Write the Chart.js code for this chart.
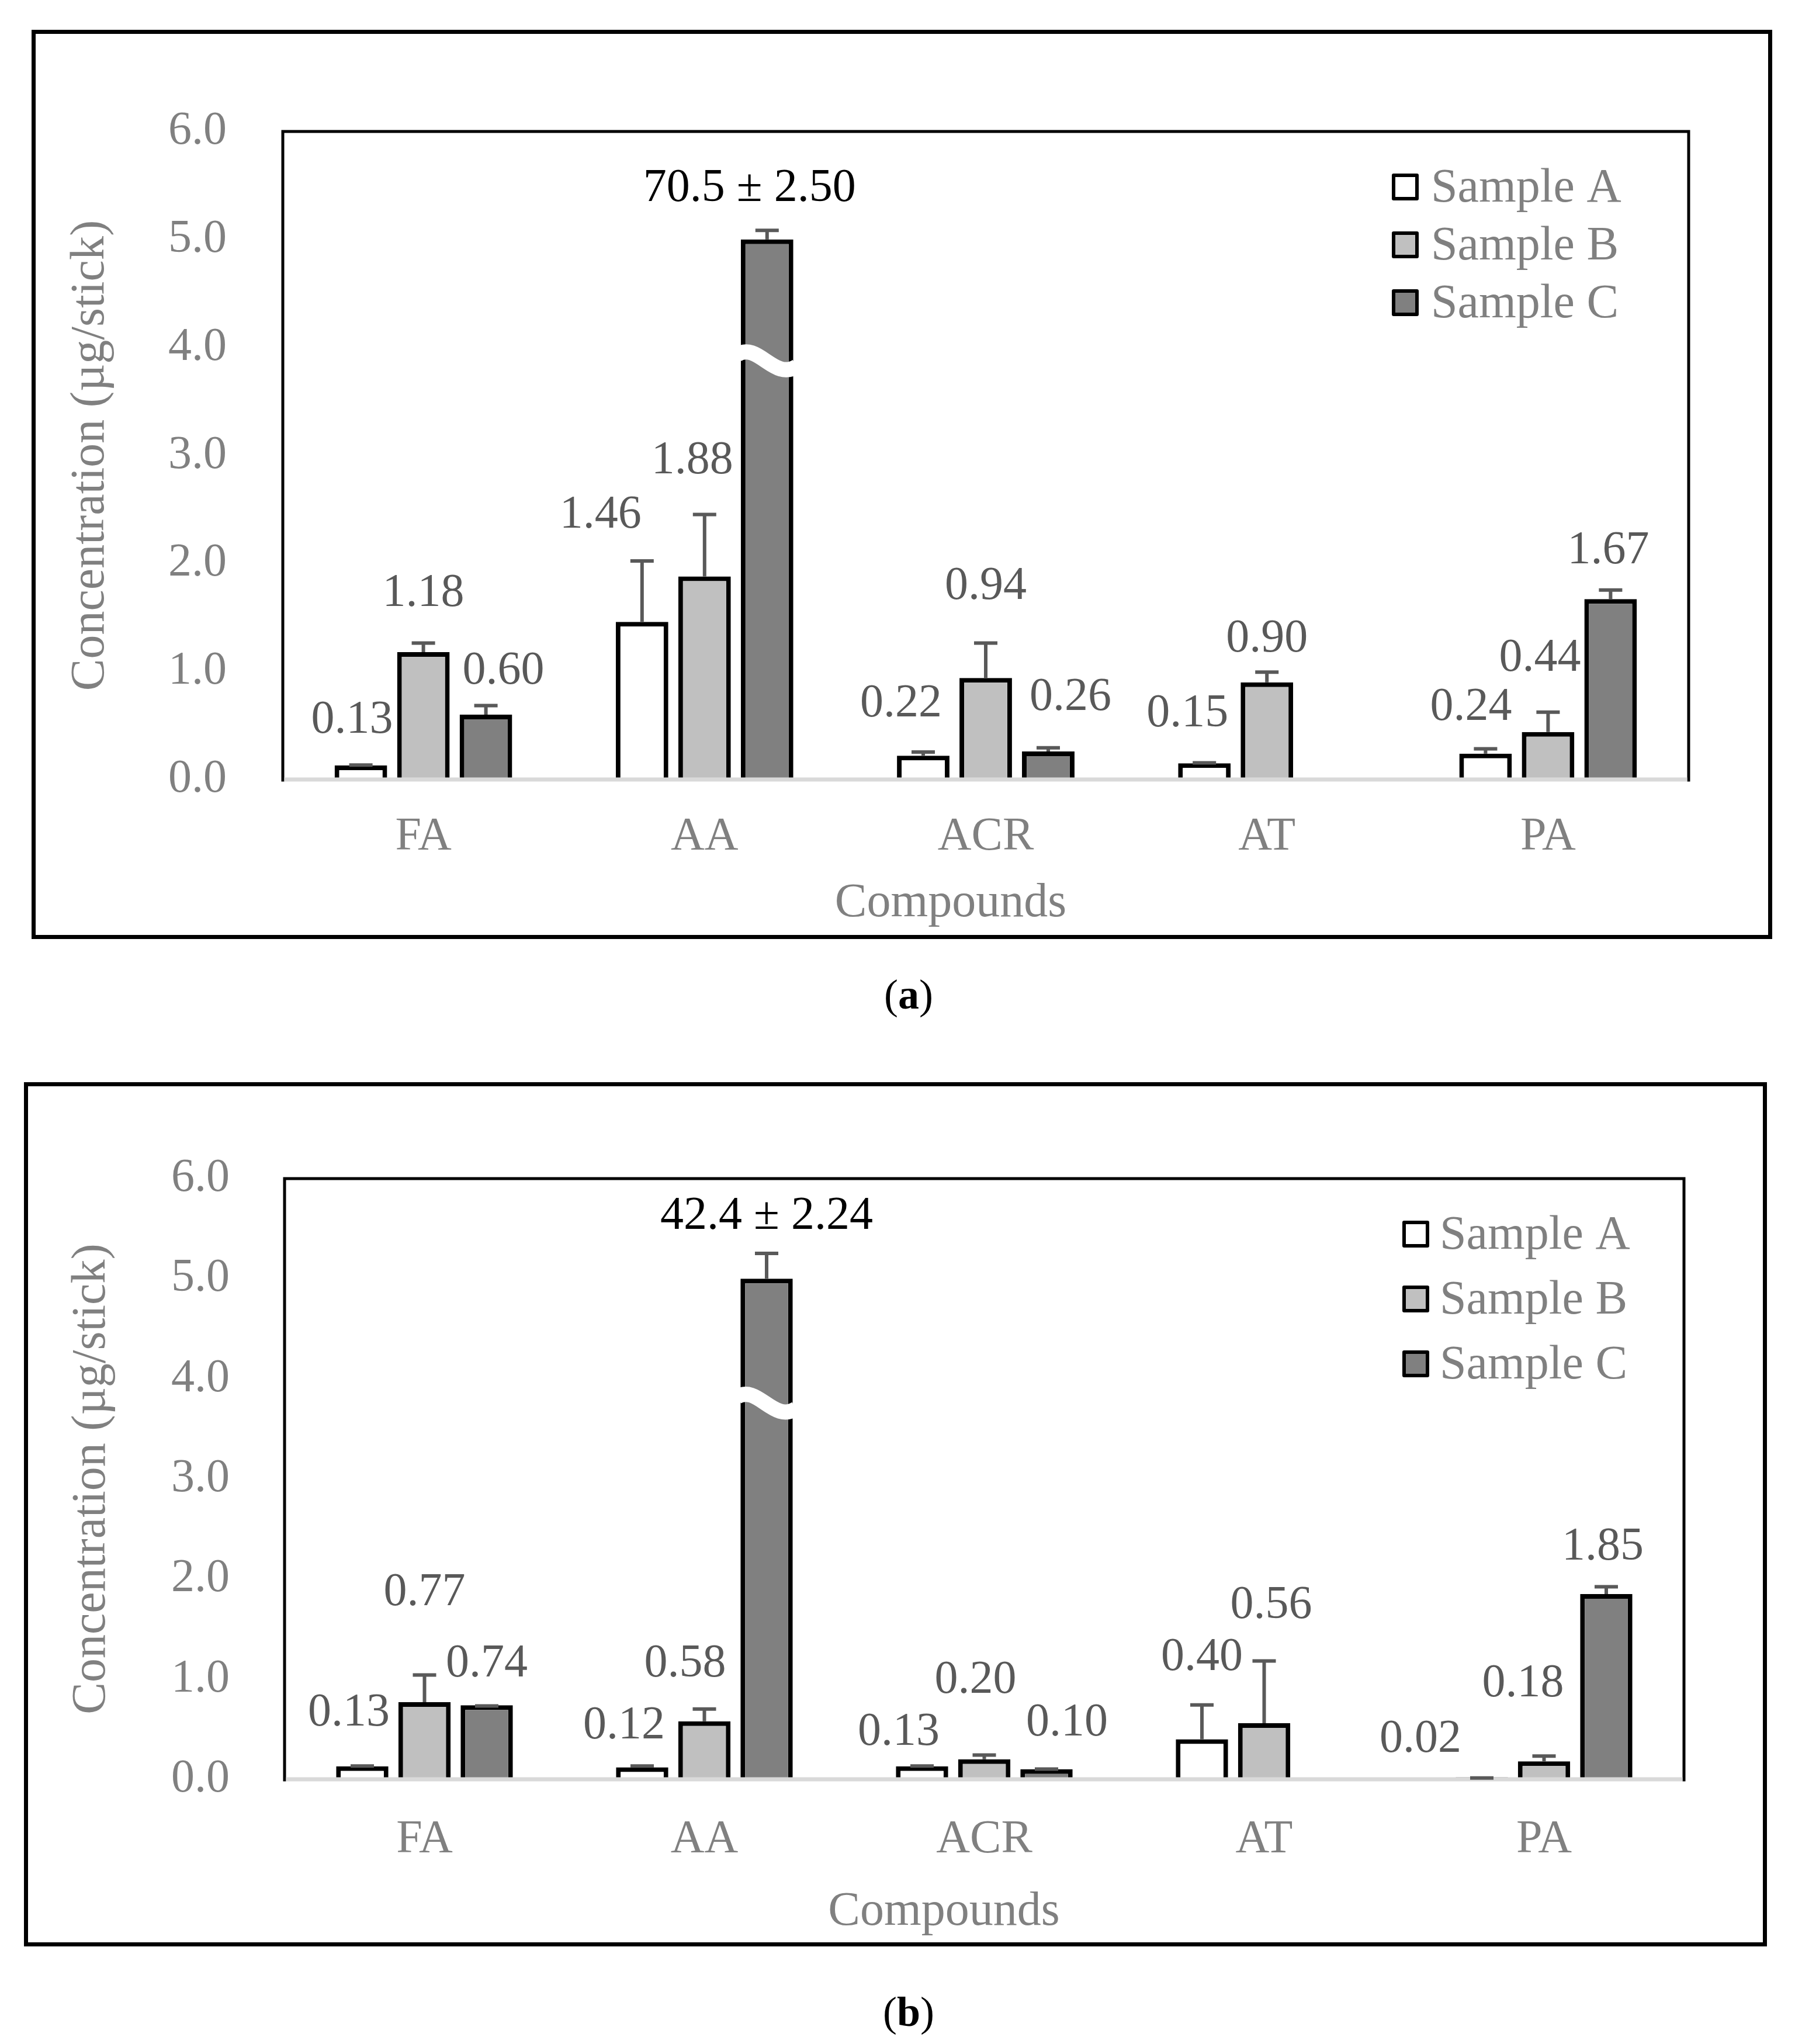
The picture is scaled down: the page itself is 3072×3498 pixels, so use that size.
<!DOCTYPE html>
<html><head><meta charset="utf-8">
<script src="https://cdn.jsdelivr.net/npm/chart.js@4.4.1/dist/chart.umd.min.js"></script>
<style>
html,body{margin:0;padding:0;background:#fff;}
body{width:3072px;height:3498px;position:relative;overflow:hidden;}
.frame{position:absolute;border:7px solid #000;box-sizing:border-box;}
canvas{position:absolute;left:0;}
.cap{position:absolute;width:400px;text-align:center;font-family:"Liberation Serif","Times New Roman",serif;font-size:72px;color:#000;line-height:80px;}
</style></head><body>
<div class="frame" style="left:54px;top:51px;width:2979px;height:1556px"></div>
<div class="frame" style="left:41px;top:1852px;width:2983px;height:1479px"></div>
<canvas id="ca" width="3072" height="1650" style="top:0;width:3072px;height:1650px"></canvas>
<canvas id="cb" width="3072" height="1630" style="top:1700px;width:3072px;height:1630px"></canvas>
<div class="cap" style="left:1355px;top:1662px">(<b>a</b>)</div>
<div class="cap" style="left:1355px;top:3403px">(<b>b</b>)</div>
<script>
// ---------- data ----------
const categories = ['FA', 'AA', 'ACR', 'AT', 'PA'];
const seriesNames = ['Sample A', 'Sample B', 'Sample C'];
const yTickValues = [0, 1, 2, 3, 4, 5, 6];
const breakShownAt = 5.0;   // bars above this are drawn broken at this height

// panel (a)
const aSampleA = [0.13, 1.46, 0.22, 0.15, 0.24];
const aSampleB = [1.18, 1.88, 0.94, 0.90, 0.44];
const aSampleC = [0.60, 70.5, 0.26, null, 1.67];
const aErrA = [0.02, 0.58, 0.05, 0.02, 0.06];
const aErrB = [0.10, 0.59, 0.34, 0.11, 0.20];
const aErrC = [0.10, 0.10, 0.05, null, 0.10];
const aBreakSd = 2.50;

// panel (b)
const bSampleA = [0.13, 0.12, 0.13, 0.40, 0.02];
const bSampleB = [0.77, 0.58, 0.20, 0.56, 0.18];
const bSampleC = [0.74, 42.4, 0.10, null, 1.85];
const bErrA = [0.02, 0.03, 0.02, 0.36, 0.01];
const bErrB = [0.29, 0.14, 0.06, 0.64, 0.07];
const bErrC = [0.01, 0.27, 0.02, null, 0.09];
const bBreakSd = 2.24;

// ---------- label placement (pixel nudges from error-bar top) ----------
const aLabelNudge = [
  [[-15, 73], [-71, 75], [-38, 79], [-29, 81], [-25, 68]],
  [[0, 81], [-21, 88], [0, 93], [0, 53], [-14, 89]],
  [[30, 56], [-30, 68], [38, 83], null, [-4, 64]]
];
const bLabelNudge = [
  [[-23, 87], [-31, 65], [-40, 54], [0, 78], [-105, 63]],
  [[0, 137], [-33, 74], [-15, 124], [12, 91], [-36, 120]],
  [[0, 69], [0, 60], [35, 75], null, [-6, 65]]
];

// ---------- style ----------
const FONT = '"Liberation Serif", "Times New Roman", serif';
const fills = ['#ffffff', '#c0c0c0', '#808080'];
const GREY = '#808080';
const LABEL_GREY = '#595959';

function makePanel(canvasId, values, errs, breakSd, nudges, L) {
  const shown = values.map(arr => arr.map(v => v == null ? null : Math.min(v, breakShownAt)));

  const overlay = {
    id: 'overlay_' + canvasId,
    afterDraw(chart) {
      const ctx = chart.ctx, ca = chart.chartArea, ys = chart.scales.y;
      ctx.save();
      // plot frame
      ctx.strokeStyle = '#000'; ctx.lineWidth = 5; ctx.lineCap = 'butt';
      ctx.beginPath();
      ctx.moveTo(ca.left, ca.bottom + 3.5); ctx.lineTo(ca.left, ca.top);
      ctx.lineTo(ca.right, ca.top); ctx.lineTo(ca.right, ca.bottom + 3.5);
      ctx.stroke();
      ctx.strokeStyle = '#d9d9d9'; ctx.lineWidth = 7;
      ctx.beginPath(); ctx.moveTo(ca.left + 2.5, ca.bottom); ctx.lineTo(ca.right - 2.5, ca.bottom); ctx.stroke();

      // axis break wave
      values.forEach((arr, d) => arr.forEach((v, i) => {
        if (v == null || v <= breakShownAt) return;
        const bar = chart.getDatasetMeta(d).data[i];
        const x0 = bar.x - bar.width / 2 - 6, x1 = bar.x + bar.width / 2 + 6, w = x1 - x0;
        const yc = ys.getPixelForValue(L.waveAt);
        ctx.strokeStyle = '#fff'; ctx.lineWidth = 26; ctx.lineCap = 'butt';
        ctx.beginPath(); ctx.moveTo(x0, yc - 12);
        ctx.bezierCurveTo(x0 + w * 0.35, yc - 34, x0 + w * 0.62, yc + 34, x1, yc + 8);
        ctx.stroke();
      }));

      // error bars (positive only)
      ctx.strokeStyle = '#595959'; ctx.lineWidth = 6; ctx.lineCap = 'butt';
      shown.forEach((arr, d) => arr.forEach((v, i) => {
        if (v == null || errs[d][i] == null) return;
        const bar = chart.getDatasetMeta(d).data[i];
        const yt = ys.getPixelForValue(v + errs[d][i]);
        ctx.beginPath();
        ctx.moveTo(bar.x, bar.y); ctx.lineTo(bar.x, yt);
        ctx.moveTo(bar.x - 20, yt + 3); ctx.lineTo(bar.x + 20, yt + 3);
        ctx.stroke();
      }));

      // data labels
      ctx.textAlign = 'center'; ctx.textBaseline = 'middle';
      ctx.font = '80px ' + FONT;
      values.forEach((arr, d) => arr.forEach((v, i) => {
        if (v == null) return;
        const bar = chart.getDatasetMeta(d).data[i];
        const yt = ys.getPixelForValue(shown[d][i] + (errs[d][i] || 0));
        const n = nudges[d][i] || [0, 60];
        let txt, col;
        if (v > breakShownAt) { txt = v.toFixed(1) + ' \u00b1 ' + breakSd.toFixed(2); col = '#000'; }
        else { txt = v.toFixed(2); col = LABEL_GREY; }
        ctx.fillStyle = col;
        ctx.fillText(txt, bar.x + n[0], yt - n[1]);
      }));

      // legend
      ctx.textAlign = 'left'; ctx.textBaseline = 'middle';
      ctx.font = '82px ' + FONT;
      seriesNames.forEach((name, d) => {
        const cy = ca.top + L.legTop + d * L.legGap;
        const bx = ca.right - L.legBox, s = 46;
        ctx.fillStyle = fills[d];
        ctx.strokeStyle = '#000'; ctx.lineWidth = 6; ctx.lineJoin = 'round';
        ctx.beginPath(); ctx.rect(bx + 3, cy - s / 2 + 3, s - 6, s - 6); ctx.fill(); ctx.stroke();
        ctx.fillStyle = GREY;
        ctx.fillText(name, ca.right - L.legText, cy + 3);
      });

      // x axis title
      ctx.textAlign = 'center';
      ctx.fillStyle = GREY;
      ctx.fillText('Compounds', (ca.left + ca.right) / 2 + L.xTitleDx, L.xTitleY);
      ctx.restore();
    }
  };

  return new Chart(document.getElementById(canvasId), {
    type: 'bar',
    data: {
      labels: categories,
      datasets: seriesNames.map((name, d) => ({
        label: name,
        data: shown[d],
        backgroundColor: fills[d],
        borderColor: '#000',
        borderWidth: 8,
        borderSkipped: 'start',
        barPercentage: 0.84,
        categoryPercentage: 0.667
      }))
    },
    options: {
      responsive: false,
      animation: false,
      devicePixelRatio: 1,
      layout: { padding: { left: 0, top: L.padTop, right: L.padRight, bottom: 0 } },
      plugins: { legend: { display: false }, tooltip: { enabled: false } },
      scales: {
        x: {
          grid: { display: false, drawTicks: false },
          border: { display: false },
          ticks: { color: GREY, font: { family: FONT, size: 80 }, padding: L.xTickPad, maxRotation: 0 },
          afterFit: s => { s.height = L.xHeight; }
        },
        y: {
          min: 0, max: 6,
          grid: { display: false, drawTicks: false },
          border: { display: false },
          afterBuildTicks: s => { s.ticks = yTickValues.map(v => ({ value: v })); },
          ticks: { color: GREY, font: { family: FONT, size: 80 }, padding: L.yTickPad,
                   callback: v => Number(v).toFixed(1) },
          title: { display: true, text: 'Concentration (\u00b5g/stick)', color: GREY,
                   font: { family: FONT, size: 82 }, padding: { top: L.yTitlePad, bottom: 0 } },
          afterFit: s => { s.width = L.yWidth; }
        }
      }
    },
    plugins: [overlay]
  });
}

makePanel('ca', [aSampleA, aSampleB, aSampleC], [aErrA, aErrB, aErrC], aBreakSd, aLabelNudge, {
  padTop: 225, padRight: 182, yWidth: 484, xHeight: 316,
  xTickPad: 51, yTickPad: 96, yTitlePad: 106,
  waveAt: 3.87, legTop: 95, legGap: 99, legBox: 508, legText: 441,
  xTitleDx: -60, xTitleY: 1546
});
makePanel('cb', [bSampleA, bSampleB, bSampleC], [bErrA, bErrB, bErrC], bBreakSd, bLabelNudge, {
  padTop: 317, padRight: 190, yWidth: 487, xHeight: 285,
  xTickPad: 56, yTickPad: 94, yTitlePad: 108,
  waveAt: 3.75, legTop: 95, legGap: 111, legBox: 482, legText: 418,
  xTitleDx: -69, xTitleY: 1572
});
</script>
</body></html>
